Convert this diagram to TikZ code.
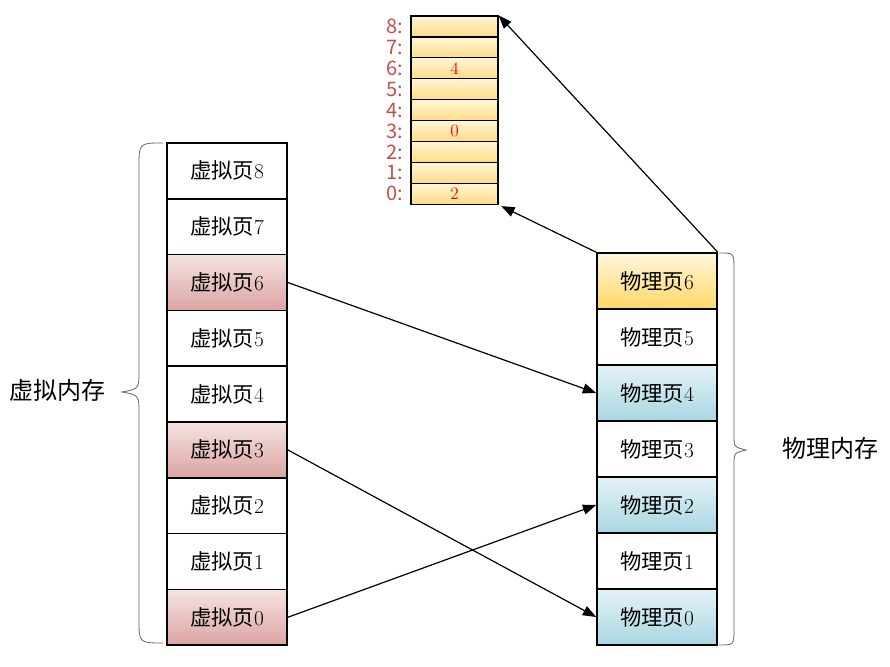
\documentclass[tikz,border=0pt]{standalone}
\usepackage{fontspec}
\newfontfamily\cjk{Noto Sans CJK SC}
\usetikzlibrary{arrows.meta}

\definecolor{pinktop}{HTML}{F5E3E2}
\definecolor{pinkbot}{HTML}{DBA4A2}
\definecolor{bluetop}{HTML}{E4F3F7}
\definecolor{bluebot}{HTML}{A9D6E2}
\definecolor{yeltop}{HTML}{FFF6DC}
\definecolor{yelbot}{HTML}{FFD766}
\definecolor{rowtop}{HTML}{FFF5D6}
\definecolor{rowbot}{HTML}{FFDC85}
\definecolor{idxred}{HTML}{C0504D}

\begin{document}
\begin{tikzpicture}[x=0.75pt,y=0.75pt,>={Triangle[length=10pt,width=7.5pt]}]
    \tikzset{
        page/.style={draw,line width=1.2pt,minimum width=90pt,minimum height=41.9pt,
            inner sep=0pt,font=\fontsize{16}{16}\selectfont},
        plain/.style={fill=white},
        vred/.style={top color=pinktop,bottom color=pinkbot},
        pblue/.style={top color=bluetop,bottom color=bluebot},
        pyel/.style={top color=yeltop,bottom color=yelbot},
        row/.style={draw,line width=0.9pt,minimum width=65.2pt,minimum height=15.7pt,
            inner sep=0pt,top color=rowtop,bottom color=rowbot,
            text=red,font=\fontsize{13}{13}\selectfont},
        idx/.style={anchor=east,text=idxred,inner sep=0pt,
            font=\cjk\fontsize{15}{15}\selectfont},
        brace/.style={draw=black!60,line width=0.6pt},
        map/.style={->,line width=0.9pt}
    }
    \useasboundingbox (0,0) rectangle (890,667);

    % virtual pages
    \foreach \i/\s in {8/plain,7/plain,6/vred,5/plain,4/plain,3/vred,2/plain,1/plain,0/vred}
        \node[page,\s] (v\i) at (227,{496.1-(8-\i)*55.8}) {{\cjk 虚拟页}\i};

    % physical pages
    \foreach \i/\s in {6/pyel,5/plain,4/pblue,3/plain,2/pblue,1/plain,0/pblue}
        \node[page,\s] (p\i) at (657,{386-(6-\i)*56}) {{\cjk 物理页}\i};

    % page table
    \foreach \i/\t in {8/,7/,6/4,5/,4/,3/0,2/,1/,0/2}{
        \node[row] (t\i) at (454.5,{640.5-(8-\i)*20.9}) {\t};
        \node[idx] (l\i) at ([xshift=-5pt]t\i.west) {\i:};
    }

    % braces
    \draw[brace] (163,524) .. controls (139,524) .. (139,500) -- (139,298)
        .. controls (139,278) .. (122,275) .. controls (139,272) .. (139,252)
        -- (139,48) .. controls (139,24) .. (163,24);
    \draw[brace] (719,414) .. controls (734,414) .. (734,398) -- (734,232)
        .. controls (734,220) .. (746,217) .. controls (734,214) .. (734,202)
        -- (734,38) .. controls (734,22) .. (719,22);

    \node[font=\cjk\fontsize{18}{18}\selectfont] (vmem) at (58,277) {虚拟内存};
    \node[font=\cjk\fontsize{18}{18}\selectfont] (pmem) at (830,219) {物理内存};

    % mappings
    \draw[map] (v6.east) -- (p4.west);
    \draw[map] (v3.east) -- (p0.west);
    \draw[map] (v0.east) -- (p2.west);
    \draw[map] (p6.north west) -- ([xshift=2pt,yshift=-1pt]t0.south east);
    \draw[map] (p6.north east) -- (t8.north east);
\end{tikzpicture}
\end{document}
